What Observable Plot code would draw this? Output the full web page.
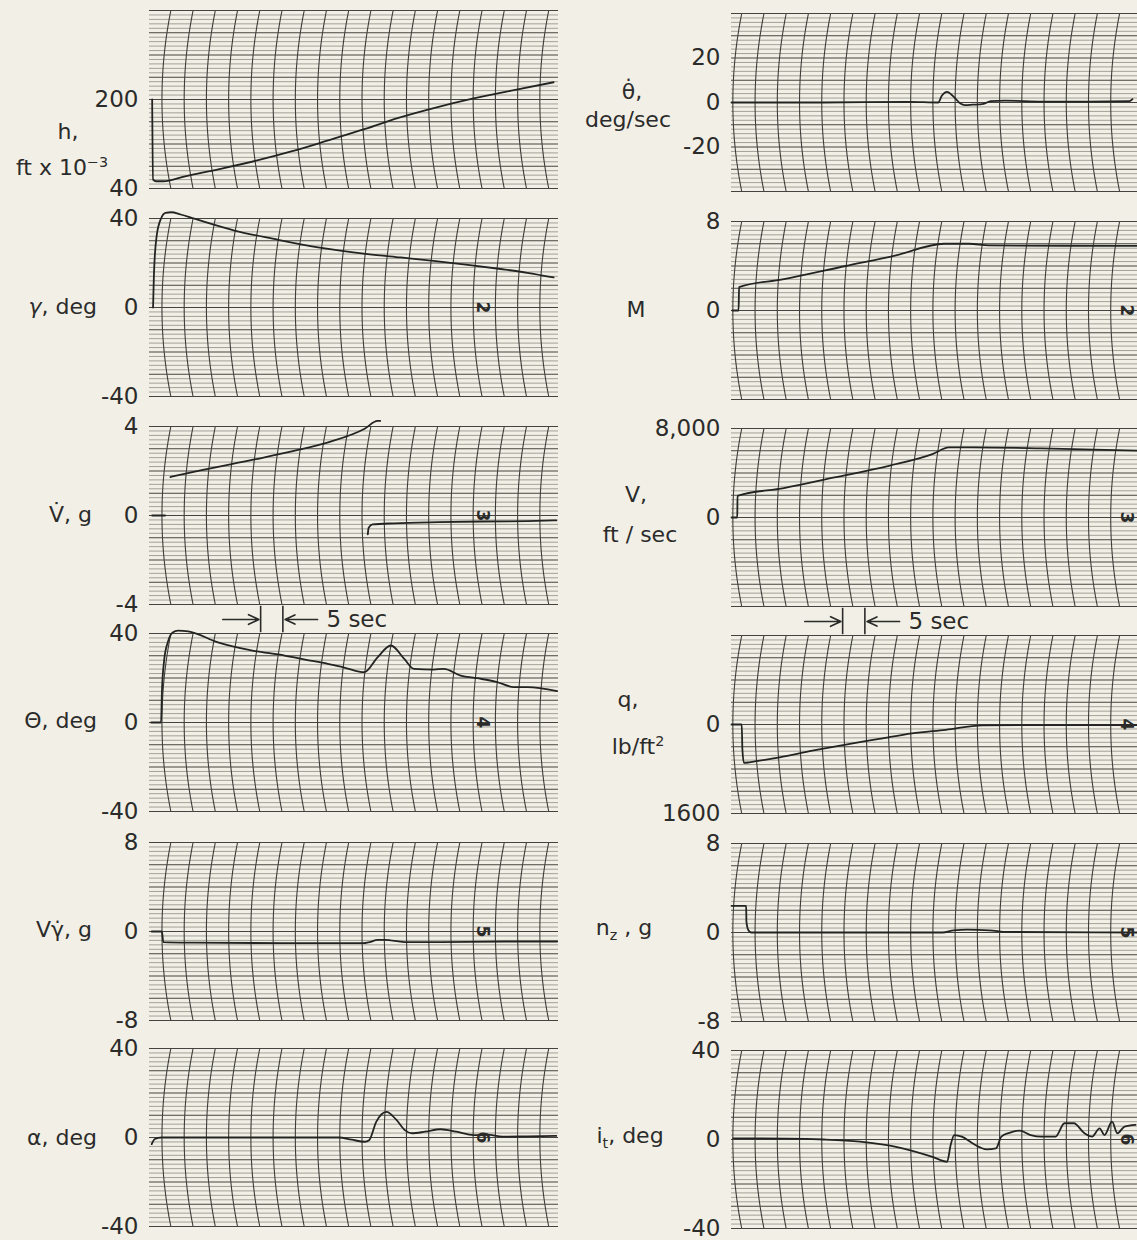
<!DOCTYPE html>
<html><head><meta charset="utf-8">
<script src="https://cdn.jsdelivr.net/npm/d3@7"></script>
<script src="https://cdn.jsdelivr.net/npm/@observablehq/plot@0.6"></script>
<style>
html,body{margin:0;padding:0;background:#f2f0e6;}
#wrap{position:relative;width:1137px;height:1240px;overflow:hidden;background:#f2f0e6;font-family:"DejaVu Sans",sans-serif;color:#2b2b2b;}
.panel{position:absolute;}
.panel svg{overflow:visible;max-width:none;display:block;}
.lab{position:absolute;font-size:22px;white-space:nowrap;line-height:1;}
.lab sup{font-size:65%;vertical-align:0.55em;}
.lab sub{font-size:65%;vertical-align:-0.35em;}
</style></head><body><div id="wrap"></div>
<script>
// ---------------- time axis (seconds) ----------------
const timeDomain = [0, 92];
const gridStepSec = 5;
const leftGridPhase = 4.8;
const rightGridPhase = 2.3;

// ---------------- left column traces ----------------
const h_t = [0.6, 0.8, 1.5, 3.1, 8, 15.7, 24, 32.1, 40, 48.5, 56, 64.6, 72.9, 82, 90.9];
const h_v = [200, 56, 53, 53, 62, 75, 90, 107, 126, 147, 167, 186, 202, 217, 231];

const gamma_t = [0.8, 1.0, 1.6, 2.6, 3.6, 4.9, 7, 10.1, 19.1, 28, 37.9, 49.1, 56.5, 63.9, 71.6, 79, 85, 90.9];
const gamma_v = [0, 15, 32, 40, 42.5, 42.8, 41.8, 39.9, 34.6, 30.8, 27, 24, 22.5, 21, 19.2, 17.3, 15.6, 13.5];

const vdot0_t = [0.6, 3.5];
const vdot0_v = [0, 0];
const vdotA_t = [4.7, 12, 23.9, 32, 40.2, 48.4, 51.3, 51.9];
const vdotA_v = [1.73, 2.05, 2.53, 2.88, 3.29, 3.9, 4.25, 4.25];
const vdotB_t = [49.1, 49.3, 50.2, 55, 65, 75, 85, 91.5];
const vdotB_v = [-0.85, -0.55, -0.4, -0.35, -0.3, -0.27, -0.25, -0.22];

const theta_t = [0.4, 2.6, 2.8, 3.3, 4.1, 5.2, 6.4, 8.7, 15.4, 22.9, 30.4, 35, 40.1, 44, 48.3, 51.3, 54.3, 57.3, 59.5, 63.9, 66.2, 70, 73.7, 78, 82, 85, 91.7];
const theta_v = [0, 0, 14, 28, 36, 40.5, 41.3, 41, 36, 32.4, 30.1, 28.3, 26.4, 24.6, 22.6, 29.3, 34.6, 28.6, 24.1, 23.8, 24.1, 21.1, 19.9, 18.3, 15.9, 15.9, 14.1];

const vgdot_t = [0.5, 2.8, 3.1, 10, 30, 48, 49.5, 51.3, 53, 57.3, 65, 80, 91.7];
const vgdot_v = [0, 0, -0.95, -1.0, -1.05, -1.05, -0.95, -0.75, -0.75, -0.95, -0.95, -0.9, -0.9];

const alpha_t = [0.5, 1.2, 2.7, 20, 42.6, 45.5, 48.4, 49.4, 51, 53.3, 55.5, 57.5, 59, 62, 65.5, 69, 72.9, 76, 79.4, 85, 91.5];
const alpha_v = [-3, -0.7, 0, 0, 0, -1, -1.9, -1.2, 7, 11.5, 8, 3.2, 1.9, 2.6, 3.7, 2.6, 1.1, 1.3, 0.4, 0.5, 0.7];

// ---------------- right column traces ----------------
const thdot_t = [0, 20, 40, 46.5, 47.3, 48.5, 49.5, 50.5, 51.5, 52.5, 54.2, 56.7, 58.3, 61.5, 70, 80, 89.5, 90.2];
const thdot_v = [0, 0, 0.3, 0, 3, 4.8, 3.5, 1.5, -0.5, -1.2, -1.0, -0.6, 0.6, 0.8, 0.4, 0.4, 0.6, 1.5];

const mach_t = [0.2, 1.6, 1.7, 11.5, 25.7, 37, 47.8, 53.4, 57.9, 75, 92];
const mach_v = [0, 0, 2.1, 2.8, 4.0, 4.95, 6.0, 6.0, 5.85, 5.82, 5.8];

const vel_t = [0, 1.3, 1.35, 11.8, 23.2, 35.4, 45.2, 48.9, 54.2, 69.7, 92];
const vel_v = [0, 0, 1950, 2640, 3600, 4650, 5700, 6300, 6310, 6220, 6000];

const q_t = [0, 2.3, 2.45, 2.8, 4, 6.3, 10.8, 18.2, 25.7, 33.2, 40.6, 48.2, 56.4, 70, 92];
const q_v = [0, 0, 450, 690, 680, 650, 590, 470, 360, 260, 160, 95, 15, 10, 10];

const nz_t = [0, 3.3, 3.35, 3.8, 4.4, 20, 47.5, 50, 53, 58, 62, 92];
const nz_v = [2.4, 2.4, 1.0, 0.2, 0, 0, 0, 0.2, 0.25, 0.2, 0.05, 0];

const it_t = [0.4, 12.6, 20.8, 28.9, 37, 45.2, 48.5, 49.3, 50.1, 51.8, 54.2, 57.4, 59.5, 60.7, 62.5, 64.8, 67.3, 69.7, 72.9, 74.9, 77, 79.4, 81.1, 82.8, 83.9, 85.6, 86.8, 88.4, 90.9];
const it_v = [0.5, 0.4, 0, -1, -3.3, -7.8, -10, -2.5, 2, 1.3, -1.7, -4.4, -4, 1.3, 3, 4, 2, 1.3, 1.3, 7.3, 7.3, 2.8, 1.3, 5, 2, 8, 2.8, 5.8, 6.6];

// ---------------- scales / ticks ----------------
const leftDomains  = [[40, 360], [-40, 40], [-4, 4], [-40, 40], [-8, 8], [-40, 40]];
const leftTicks    = [[40, 200], [-40, 0, 40], [-4, 0, 4], [-40, 0, 40], [-8, 0, 8], [-40, 0, 40]];
const rightDomains = [[-40, 40], [-8, 8], [-8000, 8000], [1600, -1600], [-8, 8], [-40, 40]];
const rightTicks   = [[-20, 0, 20], [0, 8], [0, 8000], [0, 1600], [-8, 0, 8], [-40, 0, 40]];
const traceIds     = ["", "2", "3", "4", "5", "6"];
const leftIdTime = 75;
const rightIdTime = 88.8;

// 5-second timing marker
const markerBars = [25, 30];
const markerArrows = [{x1: 16.5, x2: 24.6}, {x1: 37.8, x2: 30.5}];
const markerText = {t: 39.8, label: "5 sec"};

// ---------------- layout ----------------
const plotH = 178, MT = 14, MB = 14, W = 570, ML = 149, MR = 12;
const leftTops = [10, 218, 426, 633, 842, 1048];
const rightTops = [13, 221, 428, 635, 843, 1050];
const leftX = 0, rightX = 582;
const SAG = 2.0; // bow of the timing arcs, in seconds

const ink = "#2b2b2a";
const wrap = document.getElementById("wrap");

function zip(ts, vs) { return ts.map((t, i) => ({t, v: vs[i]})); }

const leftSeries = [
  [zip(h_t, h_v)],
  [zip(gamma_t, gamma_v)],
  [zip(vdot0_t, vdot0_v), zip(vdotA_t, vdotA_v), zip(vdotB_t, vdotB_v)],
  [zip(theta_t, theta_v)],
  [zip(vgdot_t, vgdot_v)],
  [zip(alpha_t, alpha_v)]
];
const rightSeries = [
  [zip(thdot_t, thdot_v)],
  [zip(mach_t, mach_v)],
  [zip(vel_t, vel_v)],
  [zip(q_t, q_v)],
  [zip(nz_t, nz_v)],
  [zip(it_t, it_v)]
];

function fmt(d) {
  if (Math.abs(d) >= 8000) return d3.format(",")(d);
  return String(d);
}

function makePanel(domain, ticks, series, id, idTime, phase, left, top) {
  const [d0, d1] = domain;
  const hl = d3.range(41).map(i => ({v: d0 + i * (d1 - d0) / 40, major: i % 5 === 0}));
  const gridTimes = d3.range(phase, timeDomain[1], gridStepSec);
  const mid = (d0 + d1) / 2, half = (d1 - d0) / 2;
  const arcs = gridTimes.flatMap((g, k) => d3.range(25).map(j => {
    const u = -1 + j / 12;
    return {k, t: g - SAG * (1 - u * u), v: mid + u * half};
  }));
  const marks = [
    Plot.ruleY(hl.filter(d => !d.major), {y: "v", stroke: "#77756c", strokeWidth: 0.65}),
    Plot.line(arcs, {x: "t", y: "v", z: "k", stroke: "#3e3d39", strokeWidth: 1.1}),
    Plot.ruleY(hl.filter(d => d.major), {y: "v", stroke: "#44433f", strokeWidth: 1.2}),
    Plot.axisY(ticks, {tickSize: 0, tickPadding: 11, tickFormat: fmt, fill: ink, fontSize: 23, label: null}),
    ...series.map(s => Plot.line(s, {x: "t", y: "v", stroke: "#232322", strokeWidth: 1.8, curve: "monotone-x"}))
  ];
  if (id) marks.push(Plot.text([{t: idTime, v: 0, s: id}], {x: "t", y: "v", text: "s", rotate: 90, fontSize: 17, fill: ink, fontWeight: "bold"}));
  const svg = Plot.plot({
    width: W, height: plotH + MT + MB,
    marginLeft: ML, marginRight: MR, marginTop: MT, marginBottom: MB,
    x: {domain: timeDomain, axis: null},
    y: {domain, axis: null, label: null},
    style: {background: "transparent", fontFamily: "DejaVu Sans, sans-serif", fontSize: "23px", color: ink, overflow: "visible"},
    marks
  });
  const div = document.createElement("div");
  div.className = "panel";
  div.style.left = left + "px";
  div.style.top = (top - MT) + "px";
  div.appendChild(svg);
  wrap.appendChild(div);
}

function makeMarker(left, top) {
  const svg = Plot.plot({
    width: W, height: 30, marginLeft: ML, marginRight: MR, marginTop: 0, marginBottom: 0,
    x: {domain: timeDomain, axis: null},
    y: {domain: [0, 1], axis: null},
    style: {background: "transparent", fontFamily: "DejaVu Sans, sans-serif", fontSize: "23px", color: ink, overflow: "visible"},
    marks: [
      Plot.ruleX(markerBars, {x: d => d, y1: 0.06, y2: 0.94, stroke: ink, strokeWidth: 1.6}),
      Plot.arrow(markerArrows, {x1: "x1", x2: "x2", y1: 0.5, y2: 0.5, stroke: ink, strokeWidth: 1.7, headLength: 10, headAngle: 50, bend: 0}),
      Plot.text([markerText], {x: "t", y: 0.5, text: "label", textAnchor: "start", fill: ink, fontSize: 23})
    ]
  });
  const div = document.createElement("div");
  div.className = "panel";
  div.style.left = left + "px";
  div.style.top = top + "px";
  div.appendChild(svg);
  wrap.appendChild(div);
}

for (let i = 0; i < 6; i++) {
  makePanel(leftDomains[i], leftTicks[i], leftSeries[i], traceIds[i], leftIdTime, leftGridPhase, leftX, leftTops[i]);
  makePanel(rightDomains[i], rightTicks[i], rightSeries[i], traceIds[i], rightIdTime, rightGridPhase, rightX, rightTops[i]);
}
makeMarker(leftX, 604);
makeMarker(rightX, 606);

// ---------------- variable labels ----------------
const labels = [
  ["h,", 68, 132, "middle"],
  ["ft x 10<sup>\u22123</sup>", 62, 167, "middle"],
  ["<i>\u03b3</i>, deg", 97, 307, "end"],
  ["V\u0307, g", 92, 515, "end"],
  ["\u0398, deg", 97, 721, "end"],
  ["V\u03b3\u0307, g", 92, 930, "end"],
  ["\u03b1, deg", 97, 1138, "end"],
  ["\u03b8\u0307,", 632, 92, "middle"],
  ["deg/sec", 628, 120, "middle"],
  ["M", 636, 310, "middle"],
  ["V,", 636, 495, "middle"],
  ["ft / sec", 640, 535, "middle"],
  ["q,", 628, 700, "middle"],
  ["lb/ft<sup>2</sup>", 638, 746, "middle"],
  ["n<sub>z</sub> , g", 624, 930, "middle"],
  ["i<sub>t</sub>, deg", 630, 1138, "middle"]
];
for (const [html, x, y, anchor] of labels) {
  const el = document.createElement("div");
  el.className = "lab";
  el.innerHTML = html;
  el.style.left = x + "px";
  el.style.top = y + "px";
  const tx = anchor === "end" ? "-100%" : anchor === "middle" ? "-50%" : "0";
  el.style.transform = `translate(${tx}, -50%)`;
  wrap.appendChild(el);
}
</script></body></html>
